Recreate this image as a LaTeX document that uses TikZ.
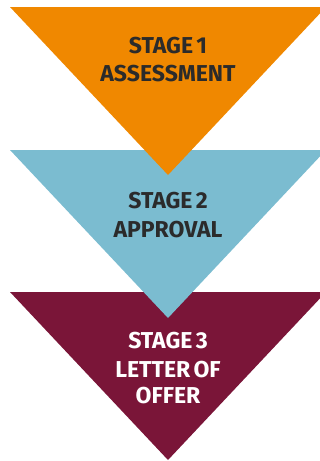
\documentclass[tikz,border=0pt]{standalone}
\usepackage{fontspec}
\setmainfont{Fira Sans}[WordSpace=0.6]
\definecolor{stOrange}{RGB}{240,136,0}
\definecolor{stBlue}{RGB}{123,188,208}
\definecolor{stMaroon}{RGB}{122,21,56}
\definecolor{stText}{RGB}{43,43,43}
\begin{document}
\begin{tikzpicture}[x=1pt,y=-1pt,
  label/.style={anchor=base,inner sep=0pt,font=\fontsize{23}{23}\selectfont\bfseries}]
\useasboundingbox (0,0) rectangle (320,461);
\clip (0,0) rectangle (320,461);
\fill[stMaroon] (10,292) -- (326,292) -- (168,460) -- cycle;
\fill[stBlue] (10,150) -- (326,150) -- (168,318) -- cycle;
\fill[stOrange] (10,7) -- (326,7) -- (168,175) -- cycle;
\node[label,text=stText] (s1a) at (168,53) {STAGE 1};
\node[label,text=stText] (s1b) at (168,81) {ASSESSMENT};
\node[label,text=stText] (s2a) at (168,208) {STAGE 2};
\node[label,text=stText] (s2b) at (168,237) {APPROVAL};
\node[label,text=white] (s3a) at (168,348) {STAGE 3};
\node[label,text=white] (s3b) at (168,377) {LETTER OF};
\node[label,text=white] (s3c) at (168,403) {OFFER};
\end{tikzpicture}
\end{document}
